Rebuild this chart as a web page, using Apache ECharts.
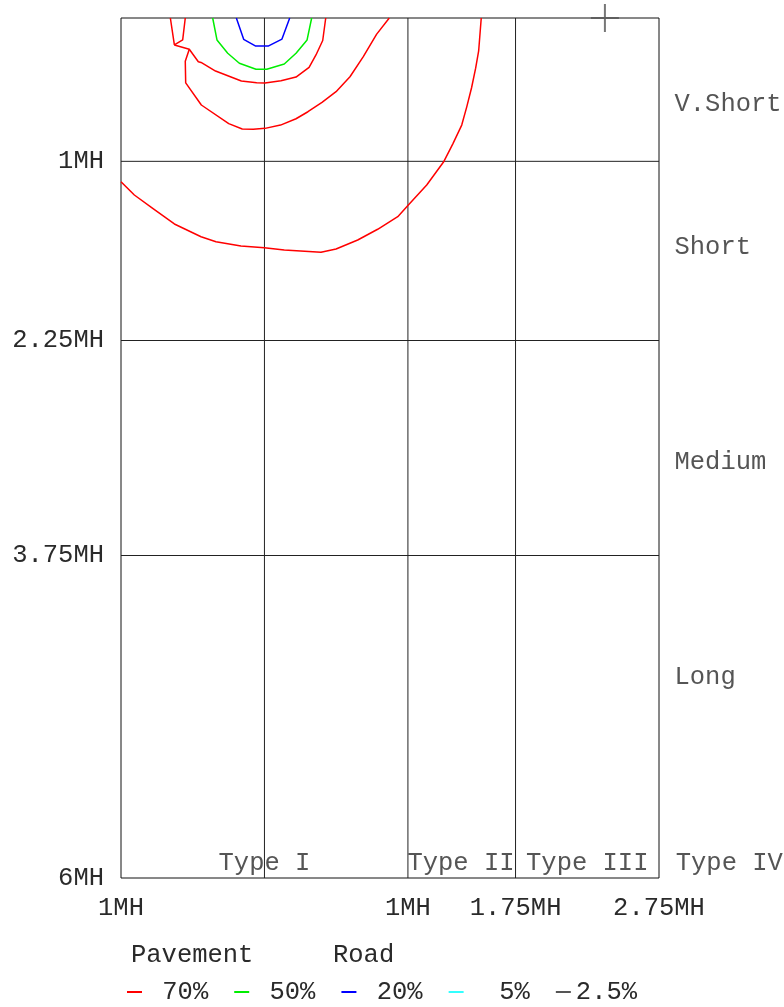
<!DOCTYPE html>
<html>
<head>
<meta charset="utf-8">
<script src="https://cdn.jsdelivr.net/npm/echarts@6/dist/echarts.min.js"></script>
<style>html,body{margin:0;padding:0;background:#fff}#c{width:784px;height:1007px}</style>
</head>
<body>
<div id="c"></div>
<script>
// ---- data (units: mounting heights, MH) ----
const xTicks = [-1, 1, 1.75, 2.75];
const yTicks = [1, 2.25, 3.75, 6];
const xGrid = [0, 1, 1.75];
const yGrid = [1, 2.25, 3.75];
const zoneNames = ['V.Short', 'Short', 'Medium', 'Long'];
const zonePos = [0.6, 1.6, 3.1, 4.6];
const typeNames = ['Type I', 'Type II', 'Type III', 'Type IV'];
const typePos = [0, 1.37, 2.25, 3.24];
const typeRow = 5.895;
const crossPoint = [2.373, 0];

const blue20 = [[-0.196,0],[-0.145,0.149],[-0.064,0.195],[0.029,0.195],[0.122,0.147],[0.176,0]];
const green50 = [[-0.361,0],[-0.331,0.153],[-0.256,0.246],[-0.175,0.316],[-0.059,0.358],[0.016,0.358],[0.138,0.321],[0.220,0.246],[0.297,0.153],[0.329,0]];
const red70a = [[-0.656,0],[-0.628,0.188],[-0.570,0.153],[-0.552,0]];
const red70b = [[-0.628,0.188],[-0.524,0.218],[-0.461,0.305],[-0.442,0.310],[-0.341,0.370],[-0.161,0.440],[-0.054,0.451],[0.004,0.453],[0.115,0.438],[0.220,0.412],[0.311,0.344],[0.359,0.258],[0.406,0.157],[0.427,0]];
const red70c = [[-0.524,0.218],[-0.552,0.302],[-0.549,0.453],[-0.440,0.607],[-0.249,0.737],[-0.155,0.774],[-0.078,0.777],[0.004,0.770],[0.112,0.747],[0.220,0.703],[0.303,0.654],[0.401,0.588],[0.499,0.514],[0.596,0.410],[0.689,0.270],[0.781,0.114],[0.870,0]];
const red70d = [[-1.000,1.142],[-0.907,1.235],[-0.779,1.328],[-0.628,1.437],[-0.442,1.526],[-0.338,1.561],[-0.164,1.591],[-0.001,1.603],[0.138,1.619],[0.394,1.635],[0.499,1.612],[0.650,1.549],[0.789,1.474],[0.929,1.386],[1.003,1.305],[1.131,1.165],[1.248,1.005],[1.313,0.878],[1.375,0.747],[1.410,0.620],[1.444,0.485],[1.472,0.350],[1.493,0.230],[1.511,0]];
const cyan5 = [];
const gray25 = [];

const FONT = 'Liberation Mono';
const FS = 25.5;
const TXT = '#2a2a2a';

const chart = echarts.init(document.getElementById('c'), null, {renderer: 'canvas'});

function contour(name, color, data) {
  return {
    name: name, type: 'line', data: data, symbol: 'none', silent: true,
    color: color, itemStyle: {color: color},
    lineStyle: {color: color, width: 1.5}, z: 3, animation: false
  };
}
const gridSeries = [];
xGrid.forEach(v => gridSeries.push({type: 'line', data: [[v, 0], [v, 6]], symbol: 'none', silent: true,
  lineStyle: {color: '#222', width: 1}, z: 1, animation: false}));
yGrid.forEach(v => gridSeries.push({type: 'line', data: [[-1, v], [2.75, v]], symbol: 'none', silent: true,
  lineStyle: {color: '#222', width: 1}, z: 1, animation: false}));

const option = {
  animation: false,
  backgroundColor: '#fff',
  textStyle: {fontFamily: FONT},
  grid: {left: 121, right: 125, top: 18, bottom: 129, show: true, borderColor: '#111', borderWidth: 1, backgroundColor: 'transparent'},
  xAxis: {
    type: 'value', min: -1, max: 2.75,
    axisLine: {show: false}, axisTick: {show: false}, splitLine: {show: false},
    axisLabel: {customValues: xTicks, formatter: v => Math.abs(v) + 'MH', fontFamily: FONT, fontSize: FS, color: TXT, margin: 17, showMinLabel: true, showMaxLabel: true}
  },
  yAxis: {
    type: 'value', min: 0, max: 6, inverse: true,
    axisLine: {show: false}, axisTick: {show: false}, splitLine: {show: false},
    axisLabel: {customValues: yTicks, formatter: v => v + 'MH', fontFamily: FONT, fontSize: FS, color: TXT, margin: 17, showMinLabel: true, showMaxLabel: true}
  },
  legend: {
    data: ['70%', '50%', '20%', '5%', '2.5%'],
    left: 127, top: 979, padding: 0, icon: 'rect', itemWidth: 15, itemHeight: 2, itemGap: 26,
    formatter: n => n.padStart(4, ' '),
    textStyle: {fontFamily: FONT, fontSize: FS, color: TXT},
    selectedMode: false
  },
  graphic: [
    {type: 'text', left: 131, top: 942, style: {text: 'Pavement', font: FS + 'px "' + FONT + '"', fill: TXT}},
    {type: 'text', left: 333, top: 942, style: {text: 'Road', font: FS + 'px "' + FONT + '"', fill: TXT}}
  ],
  series: gridSeries.concat([
    contour('70%', '#ff0000', red70a),
    contour('70%', '#ff0000', red70b),
    contour('70%', '#ff0000', red70c),
    contour('70%', '#ff0000', red70d),
    contour('50%', '#00ee00', green50),
    contour('20%', '#0000ff', blue20),
    contour('5%', '#33ffff', cyan5),
    contour('2.5%', '#555555', gray25),
    {
      type: 'scatter', data: [crossPoint], clip: false, silent: true, z: 5,
      symbol: 'path://M14 0 L14 28 M0 14 L28 14', symbolSize: 28,
      itemStyle: {color: 'rgba(0,0,0,0)', borderColor: '#555', borderWidth: 2}
    },
    {
      type: 'scatter', clip: false, silent: true, symbolSize: 1, z: 6,
      itemStyle: {color: 'rgba(0,0,0,0)'},
      data: zonePos.map((p, i) => ({value: [2.75, p], name: zoneNames[i]})),
      label: {show: true, position: 'right', distance: 15, formatter: p => p.name, fontFamily: FONT, fontSize: FS, color: TXT}
    },
    {
      type: 'scatter', clip: false, silent: true, symbolSize: 1, z: 6,
      itemStyle: {color: 'rgba(0,0,0,0)'},
      data: typePos.map((p, i) => ({value: [p, typeRow], name: typeNames[i]})),
      label: {show: true, position: 'inside', formatter: p => p.name, fontFamily: FONT, fontSize: FS, color: TXT}
    }
  ])
};
chart.setOption(option);
</script>
</body>
</html>
